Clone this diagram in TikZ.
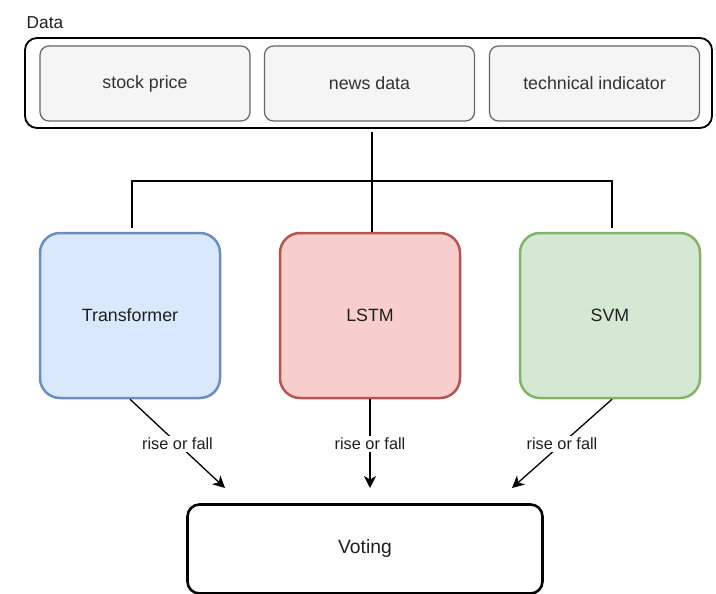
\documentclass[tikz,border=0pt]{standalone}
\usepackage{fontspec}
\setmainfont{Liberation Sans}
\usetikzlibrary{arrows.meta,calc}
\definecolor{boxgray}{HTML}{F5F5F5}
\definecolor{boxedge}{HTML}{666666}
\definecolor{boxtext}{HTML}{333333}
\definecolor{bluefill}{HTML}{DAE8FC}
\definecolor{blueedge}{HTML}{6C8EBF}
\definecolor{redfill}{HTML}{F8CECC}
\definecolor{rededge}{HTML}{B85450}
\definecolor{greenfill}{HTML}{D5E8D4}
\definecolor{greenedge}{HTML}{82B366}
\begin{document}
\begin{tikzpicture}[x=1pt,y=-1pt,
  inbox/.style={draw=boxedge, fill=boxgray, rounded corners=9pt, line width=1.2pt,
    minimum width=210pt, minimum height=75pt, text=boxtext, inner sep=0pt,
    font=\fontsize{17.8}{20}\selectfont},
  model/.style={rounded corners=20pt, line width=2.5pt, minimum width=180pt,
    minimum height=165pt, inner sep=0pt, text=black!88,
    font=\fontsize{17.8}{20}\selectfont},
  tree/.style={line width=2.8pt},
  vote/.style={-{Stealth[length=12pt,width=12pt,inset=3.5pt]}, line width=1.3pt},
  lbl/.style={fill=white, inner sep=2pt, text=black!88, font=\fontsize{16.3}{18}\selectfont}]
\useasboundingbox (0,0) rectangle (716,594);
% data container
\node[draw, rounded corners=12pt, line width=1.8pt, minimum width=687pt,
  minimum height=90pt, inner sep=0pt] (data) at (368.5,83) {};
\node[anchor=base west, inner sep=0pt, font=\fontsize{17.3}{20}\selectfont, text=black!88]
  (datalbl) at (26.5,29) {Data};
\node[inbox] (stock) at (145,83.5) {stock price};
\node[inbox] (news) at (369.5,83.5) {news data};
\node[inbox] (tech) at (594.5,83.5) {technical indicator};
% models
\node[model, draw=blueedge, fill=bluefill] (tr) at (130,315.5) {Transformer};
\node[model, draw=rededge, fill=redfill] (lstm) at (370,315.5) {LSTM};
\node[model, draw=greenedge, fill=greenfill] (svm) at (610,315.5) {SVM};
% voting
\node[draw, rounded corners=12pt, line width=2.6pt, minimum width=355pt,
  minimum height=89pt, inner sep=0pt, text=black!88,
  font=\fontsize{19.3}{22}\selectfont] (voting) at (365,549) {Voting};
% tree
\coordinate (dtop) at (372,132);
\coordinate (jl) at (132,181);
\coordinate (jr) at (612,181);
\draw[tree] (dtop) -- ([xshift=2pt]lstm.north);
\draw[tree] ([xshift=2pt,yshift=4pt]tr.north) -- (jl) -- (jr) -- ([xshift=2pt,yshift=4pt]svm.north);
% arrows
\coordinate (t1) at (225,488);
\coordinate (t2) at (370,488);
\coordinate (t3) at (512,488);
\draw[vote] (tr.south) -- node[lbl] {rise or fall} (t1);
\draw[vote] (lstm.south) -- node[lbl] {rise or fall} (t2);
\draw[vote] ([xshift=2pt]svm.south) -- node[lbl] {rise or fall} (t3);
\end{tikzpicture}
\end{document}
